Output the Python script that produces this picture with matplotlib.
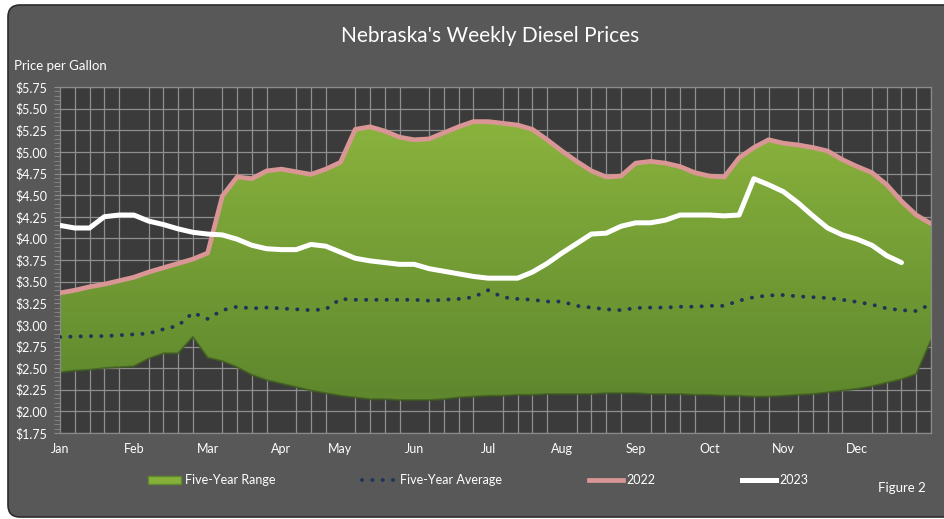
import numpy as np
import matplotlib
matplotlib.use("Agg")
import matplotlib.pyplot as plt
from matplotlib.colors import LinearSegmentedColormap
from matplotlib.patches import FancyBboxPatch, PathPatch, Patch
from matplotlib.lines import Line2D
from matplotlib.ticker import MultipleLocator, FuncFormatter

plt.rcParams['font.family'] = ['Lato', 'DejaVu Sans']

# ---- data (weekly categories, 60 slots) ----
month_labels = ['Jan', 'Feb', 'Mar', 'Apr', 'May', 'Jun',
                'Jul', 'Aug', 'Sep', 'Oct', 'Nov', 'Dec']
month_week = [0, 5, 10, 15, 19, 24, 29, 34, 39, 44, 49, 54]

range_low = [2.45, 2.47, 2.48, 2.50, 2.51, 2.52, 2.61, 2.67, 2.67, 2.86,
             2.62, 2.58, 2.51, 2.42, 2.36, 2.32, 2.28, 2.24, 2.21, 2.18,
             2.16, 2.14, 2.14, 2.13, 2.13, 2.13, 2.14, 2.16, 2.17, 2.18,
             2.18, 2.19, 2.19, 2.20, 2.20, 2.20, 2.20, 2.21, 2.21, 2.21,
             2.20, 2.20, 2.20, 2.19, 2.19, 2.18, 2.18, 2.17, 2.17, 2.18,
             2.19, 2.20, 2.22, 2.24, 2.26, 2.29, 2.33, 2.37, 2.43, 2.82]

prices_2022 = [3.37, 3.40, 3.44, 3.47, 3.51, 3.55, 3.61, 3.66, 3.71, 3.76,
               3.83, 4.49, 4.71, 4.69, 4.78, 4.80, 4.77, 4.74, 4.80, 4.88,
               5.26, 5.29, 5.24, 5.17, 5.14, 5.15, 5.22, 5.29, 5.35, 5.35,
               5.33, 5.31, 5.26, 5.14, 5.01, 4.89, 4.78, 4.71, 4.72, 4.87,
               4.89, 4.87, 4.83, 4.76, 4.72, 4.71, 4.93, 5.05, 5.14, 5.10,
               5.08, 5.05, 5.01, 4.91, 4.83, 4.76, 4.62, 4.43, 4.27, 4.17]

# five-year high coincides with 2022
range_high = prices_2022

five_year_avg = [2.86, 2.865, 2.87, 2.87, 2.88, 2.89, 2.90, 2.95, 2.99, 3.14,
                 3.07, 3.17, 3.21, 3.19, 3.20, 3.19, 3.18, 3.17, 3.18, 3.30,
                 3.29, 3.29, 3.29, 3.29, 3.29, 3.28, 3.29, 3.30, 3.32, 3.40,
                 3.32, 3.30, 3.29, 3.27, 3.27, 3.22, 3.20, 3.18, 3.17, 3.195,
                 3.20, 3.20, 3.21, 3.21, 3.22, 3.22, 3.28, 3.32, 3.34, 3.345,
                 3.33, 3.32, 3.31, 3.29, 3.265, 3.235, 3.19, 3.17, 3.16, 3.24]

prices_2023 = [4.15, 4.12, 4.12, 4.25, 4.27, 4.27, 4.20, 4.16, 4.11, 4.07,
               4.05, 4.04, 3.99, 3.92, 3.88, 3.87, 3.87, 3.93, 3.91, 3.84,
               3.77, 3.74, 3.72, 3.70, 3.70, 3.65, 3.62, 3.59, 3.56, 3.54,
               3.54, 3.54, 3.61, 3.71, 3.83, 3.94, 4.05, 4.06, 4.14, 4.18,
               4.18, 4.21, 4.27, 4.27, 4.27, 4.26, 4.27, 4.69, 4.62, 4.54,
               4.41, 4.26, 4.12, 4.04, 3.99, 3.92, 3.80, 3.72]

weeks = np.arange(len(range_low))
weeks_2023 = np.arange(len(prices_2023))

# ---- figure ----
fig = plt.figure(figsize=(9.45, 5.19), dpi=100)
fig.patch.set_facecolor('white')
frame = FancyBboxPatch((0.08, 0.02), 9.6, 5.12,
                       boxstyle='round,pad=0,rounding_size=0.12',
                       transform=fig.dpi_scale_trans,
                       facecolor='#585858', edgecolor='#2c2c2c', lw=1.2,
                       zorder=-10)
fig.patches.append(frame)

ax = fig.add_axes([60 / 945, 1 - 433 / 519, 871 / 945, 346 / 519])
ax.set_facecolor('#3b3b3b')

# five-year range with vertical gradient
band = ax.fill_between(weeks, range_low, range_high, facecolor='none',
                       edgecolor='none')
clip = PathPatch(band.get_paths()[0], transform=ax.transData,
                 facecolor='none', edgecolor='none')
ax.add_patch(clip)
green = LinearSegmentedColormap.from_list('g', ['#5e872e', '#8ab33d'])
grad = np.linspace(0, 1, 256).reshape(-1, 1)
img = ax.imshow(grad, cmap=green, aspect='auto', origin='lower',
                extent=[0, weeks[-1], min(range_low), max(range_high)],
                zorder=2, interpolation='bicubic')
img.set_clip_path(clip)
ax.plot(weeks, range_low, color='#3e5a20', lw=1.5, alpha=0.7, zorder=2.5)

ax.plot(weeks, five_year_avg, color='#1d3557', lw=2.8,
        linestyle=(0, (0.05, 2.6)), dash_capstyle='round', zorder=3)
ax.plot(weeks, prices_2022, color='#d99694', lw=3.4, zorder=4,
        solid_joinstyle='round')
ax.plot(weeks_2023, prices_2023, color='white', lw=3.6, zorder=5,
        solid_joinstyle='round', solid_capstyle='round')

ax.set_xlim(0, weeks[-1])
ax.set_ylim(1.75, 5.75)

# grid
ax.set_axisbelow(True)
ax.set_xticks(weeks, minor=True)
ax.yaxis.set_major_locator(MultipleLocator(0.25))
ax.yaxis.set_minor_locator(MultipleLocator(0.05))
ax.grid(which='major', axis='y', color='#8f8f8f', lw=0.9)
ax.grid(which='minor', axis='x', color='#8f8f8f', lw=0.9)
ax.set_xticks(month_week)
ax.set_xticklabels(month_labels)
ax.yaxis.set_major_formatter(FuncFormatter(lambda v, p: f'${v:.2f}'))

ax.tick_params(axis='x', which='both', length=0, pad=7, colors='white',
               labelsize=9)
ax.tick_params(axis='y', which='both', length=4, color='#8a8a8a',
               labelcolor='white', labelsize=9, pad=5)
for s in ax.spines.values():
    s.set_color('#8a8a8a')
    s.set_linewidth(0.9)

fig.text(0.519, 0.931, "Nebraska's Weekly Diesel Prices", color='white',
         fontsize=15, ha='center', va='center')
fig.text(0.015, 0.873, 'Price per Gallon', color='white', fontsize=9.5,
         ha='left', va='center')
fig.text(0.98, 0.06, 'Figure 2', color='white', fontsize=9.5,
         ha='right', va='center')

handles = [
    Patch(facecolor='#86b03a', edgecolor='#5f8a2e'),
    Line2D([], [], color='#1d3557', lw=2.8, linestyle=(0, (0.05, 2.6)),
           dash_capstyle='round'),
    Line2D([], [], color='#d99694', lw=3.4),
    Line2D([], [], color='white', lw=3.6),
]
labels = ['Five-Year Range', 'Five-Year Average', '2022', '2023']
leg = fig.legend(handles, labels, loc='center', ncol=4, frameon=False,
                 bbox_to_anchor=(0.506, 0.075), fontsize=9,
                 handlelength=2.7, handleheight=0.6, handletextpad=0.3,
                 columnspacing=6.95)
for t in leg.get_texts():
    t.set_color('white')

fig.savefig('out.png', dpi=100, facecolor=fig.get_facecolor())
